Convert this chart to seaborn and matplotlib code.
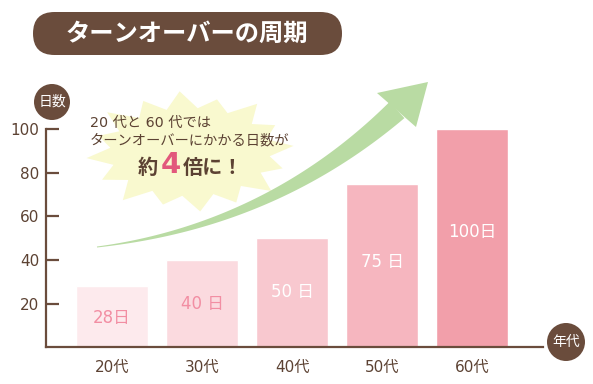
import numpy as np
import pandas as pd
import matplotlib
matplotlib.use("Agg")
import matplotlib.pyplot as plt
import seaborn as sns
from matplotlib.patches import FancyBboxPatch, Circle, Polygon

# ---- data ----
categories = ["20代", "30代", "40代", "50代", "60代"]
days = [28, 40, 50, 75, 100]
bar_labels = ["28日", "40 日", "50 日", "75 日", "100日"]
y_ticks = [20, 40, 60, 80, 100]
title_text = "ターンオーバーの周期"
note_line1 = "20 代と 60 代では"
note_line2 = "ターンオーバーにかかる日数が"

bar_colors = ["#fdeaed", "#fbdadf", "#f8c8cf", "#f6b6bf", "#f29faa"]
label_colors = ["#f28ea3", "#f28ea3", "white", "white", "white"]
brown = "#6a4c3c"
text_brown = "#5c4233"

sns.set_theme(style="white")
plt.rcParams['font.family'] = ['DejaVu Sans', 'Noto Sans CJK JP']
cjk = ['Noto Sans CJK JP', 'DejaVu Sans']

W, H = 593, 384
fig = plt.figure(figsize=(W / 100, H / 100), dpi=100)
fig.patch.set_facecolor("white")

# ---- decoration layer (pixel coordinates) ----
deco = fig.add_axes([0, 0, 1, 1], zorder=0)
deco.set_xlim(0, W)
deco.set_ylim(H, 0)
deco.axis("off")

# title pill
deco.add_patch(FancyBboxPatch((33, 12), 309, 43,
                              boxstyle="round,pad=0,rounding_size=21.5",
                              fc=brown, ec="none"))
deco.text(187, 34, title_text, color="white", fontsize=17.5, fontweight="bold",
          ha="center", va="center", family=cjk)

# starburst
cx, cy = 190, 152
n = 16
mult = [1.0, 0.93, 1.02, 0.9, 1.0, 0.95, 1.03, 0.92, 1.0, 0.96, 1.02, 0.9, 0.98, 0.94, 1.01, 0.93]
pts = []
for i in range(2 * n):
    ang = np.pi * i / n + 0.1
    if i % 2 == 0:
        rx, ry = 104 * mult[i // 2], 61 * mult[i // 2]
    else:
        rx, ry = 80, 44
    pts.append((cx + rx * np.cos(ang), cy - ry * np.sin(ang)))
deco.add_patch(Polygon(pts, closed=True, fc="#f9f9cf", ec="none"))

# green arrow
P0 = np.array([97.0, 247.0])
P1 = np.array([270.0, 226.0])
P2 = np.array([397.0, 110.0])
t = np.linspace(0, 1, 120)
curve = ((1 - t) ** 2)[:, None] * P0 + (2 * (1 - t) * t)[:, None] * P1 + (t ** 2)[:, None] * P2
deriv = (2 * (1 - t))[:, None] * (P1 - P0) + (2 * t)[:, None] * (P2 - P1)
nrm = np.stack([-deriv[:, 1], deriv[:, 0]], axis=1)
nrm /= np.linalg.norm(nrm, axis=1)[:, None]
wid = (1 + 21 * t ** 1.3) / 2
upper = curve + nrm * wid[:, None]
lower = curve - nrm * wid[:, None]
shaft = np.vstack([upper, lower[::-1]])
green = "#b9dba3"
deco.add_patch(Polygon(shaft, closed=True, fc=green, ec="none"))
deco.add_patch(Polygon([(377, 93), (428, 82), (416, 127)], closed=True, fc=green, ec="none"))

# note text
deco.text(90, 123, note_line1, color=text_brown, fontsize=10.3, ha="left", va="center")
deco.text(90, 140, note_line2, color=text_brown, fontsize=10.3, ha="left", va="center", family=cjk)
deco.text(148, 167, "約", color=text_brown, fontsize=14.5, fontweight="bold", ha="center", va="center",
          family=cjk)
deco.text(171, 165, "4", color="#e2587c", fontsize=21, fontweight="bold", ha="center", va="center")
deco.text(183, 167, "倍に！", color=text_brown, fontsize=14.5, fontweight="bold", ha="left", va="center",
          family=cjk)

# axis badges
deco.add_patch(Circle((52, 102), 18, fc=brown, ec="none"))
deco.text(52, 102, "日数", color="white", fontsize=10, ha="center", va="center", family=cjk)
deco.add_patch(Circle((566, 342), 19, fc=brown, ec="none"))
deco.text(566, 342, "年代", color="white", fontsize=10, ha="center", va="center", family=cjk)

# ---- bar chart ----
left_px, right_px = 46, 543
zero_px, top_px = 347, 129.5
ax = fig.add_axes([left_px / W, (H - zero_px) / H, (right_px - left_px) / W, (zero_px - top_px) / H],
                  zorder=1)
ax.patch.set_alpha(0)

df = pd.DataFrame({"age": categories, "days": days})
sns.barplot(data=df, x="age", y="days", hue="age", palette=bar_colors, legend=False,
            width=0.8, saturation=1, ax=ax)

ax.set_xlim((left_px - 112) / 90, (right_px - 112) / 90)
ax.set_ylim(0, 100)
ax.set_yticks(y_ticks)
ax.set_xlabel("")
ax.set_ylabel("")

for i, (v, lab) in enumerate(zip(days, bar_labels)):
    ax.text(i, v * 0.55 - 2.1, lab, color=label_colors[i], fontsize=12,
            ha="center", va="center")

for s in ["top", "right"]:
    ax.spines[s].set_visible(False)
for s in ["left", "bottom"]:
    ax.spines[s].set_color(brown)
    ax.spines[s].set_linewidth(1.6)
ax.tick_params(axis="y", direction="in", length=9, width=1.6, color=brown,
               labelcolor=text_brown, labelsize=11, pad=5, left=True)
ax.tick_params(axis="x", length=0, labelcolor=text_brown, labelsize=11, pad=9)

fig.savefig("out.png", dpi=100, facecolor="white")
